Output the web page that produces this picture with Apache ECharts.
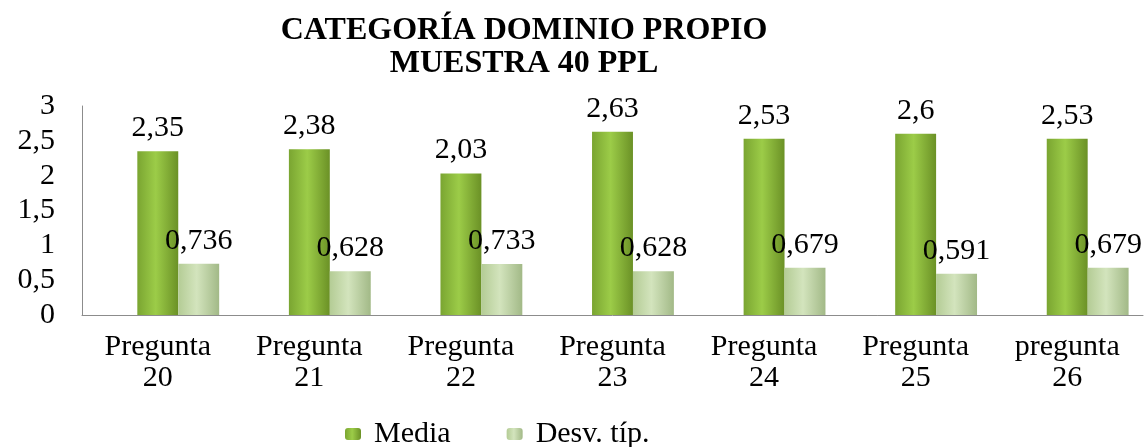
<!DOCTYPE html>
<html>
<head>
<meta charset="utf-8">
<style>
  html, body { margin: 0; padding: 0; background: #fff; }
  #chart { width: 1148px; height: 447px; }
</style>
<script src="https://cdn.jsdelivr.net/npm/echarts@6/dist/echarts.min.js"></script>
</head>
<body>
<div id="chart"></div>
<script>
// datos
var categorias = ["Pregunta\n20", "Pregunta\n21", "Pregunta\n22", "Pregunta\n23", "Pregunta\n24", "Pregunta\n25", "pregunta\n26"];
var media = [2.35, 2.38, 2.03, 2.63, 2.53, 2.6, 2.53];
var desvTip = [0.736, 0.628, 0.733, 0.628, 0.679, 0.591, 0.679];
var vacio = ["-", "-", "-", "-", "-", "-", "-"];

var fuente = '"Liberation Serif", "Times New Roman", serif';

// coma decimal
function coma(v) {
  return String(v).replace(".", ",");
}

var verde = new echarts.graphic.LinearGradient(0, 0, 1, 0, [
  { offset: 0, color: "#7aa531" },
  { offset: 0.45, color: "#9ccc48" },
  { offset: 1, color: "#6b9126" }
]);
var verdeClaro = new echarts.graphic.LinearGradient(0, 0, 1, 0, [
  { offset: 0, color: "#b4cc95" },
  { offset: 0.45, color: "#d3e4bd" },
  { offset: 1, color: "#a2b987" }
]);

var etiqueta = {
  show: true,
  position: "top",
  distance: 8,
  color: "#000",
  fontFamily: fuente,
  fontSize: 30,
  formatter: function (p) { return coma(p.value); }
};

var chart = echarts.init(document.getElementById("chart"));
chart.setOption({
  animation: false,
  graphic: [{
    type: "text",
    x: 524,
    y: 14,
    style: {
      text: "CATEGORÍA DOMINIO PROPIO\nMUESTRA 40 PPL",
      align: "center",
      fontFamily: fuente,
      fontWeight: "bold",
      fontSize: 32,
      lineHeight: 33,
      fill: "#000"
    }
  }],
  legend: {
    data: ["Media", "Desv. típ."],
    left: 340,
    bottom: -7,
    itemWidth: 16,
    itemHeight: 12,
    itemGap: 56,
    textStyle: { fontFamily: fuente, fontSize: 30, color: "#000", padding: [0, 0, 0, 8] }
  },
  grid: { left: 82, right: 5, top: 106, bottom: 132 },
  xAxis: {
    type: "category",
    data: categorias,
    axisLine: { lineStyle: { color: "#8c8c8c" } },
    axisTick: { show: false },
    axisLabel: { color: "#000", fontFamily: fuente, fontSize: 30, lineHeight: 31, margin: 17, interval: 0 }
  },
  yAxis: {
    type: "value",
    min: 0,
    max: 3,
    interval: 0.5,
    axisLine: { show: true, lineStyle: { color: "#8c8c8c" } },
    axisTick: { show: false },
    splitLine: { show: false },
    axisLabel: { color: "#000", fontFamily: fuente, fontSize: 30, margin: 27, formatter: coma }
  },
  series: [
    { name: "hueco", type: "bar", data: vacio, barWidth: "27%", barGap: 0, silent: true },
    { name: "Media", type: "bar", data: media, barWidth: "27%", barGap: 0, itemStyle: { color: verde }, label: etiqueta },
    { name: "Desv. típ.", type: "bar", data: desvTip, barWidth: "27%", barGap: 0, itemStyle: { color: verdeClaro }, label: etiqueta }
  ]
});
</script>
</body>
</html>
